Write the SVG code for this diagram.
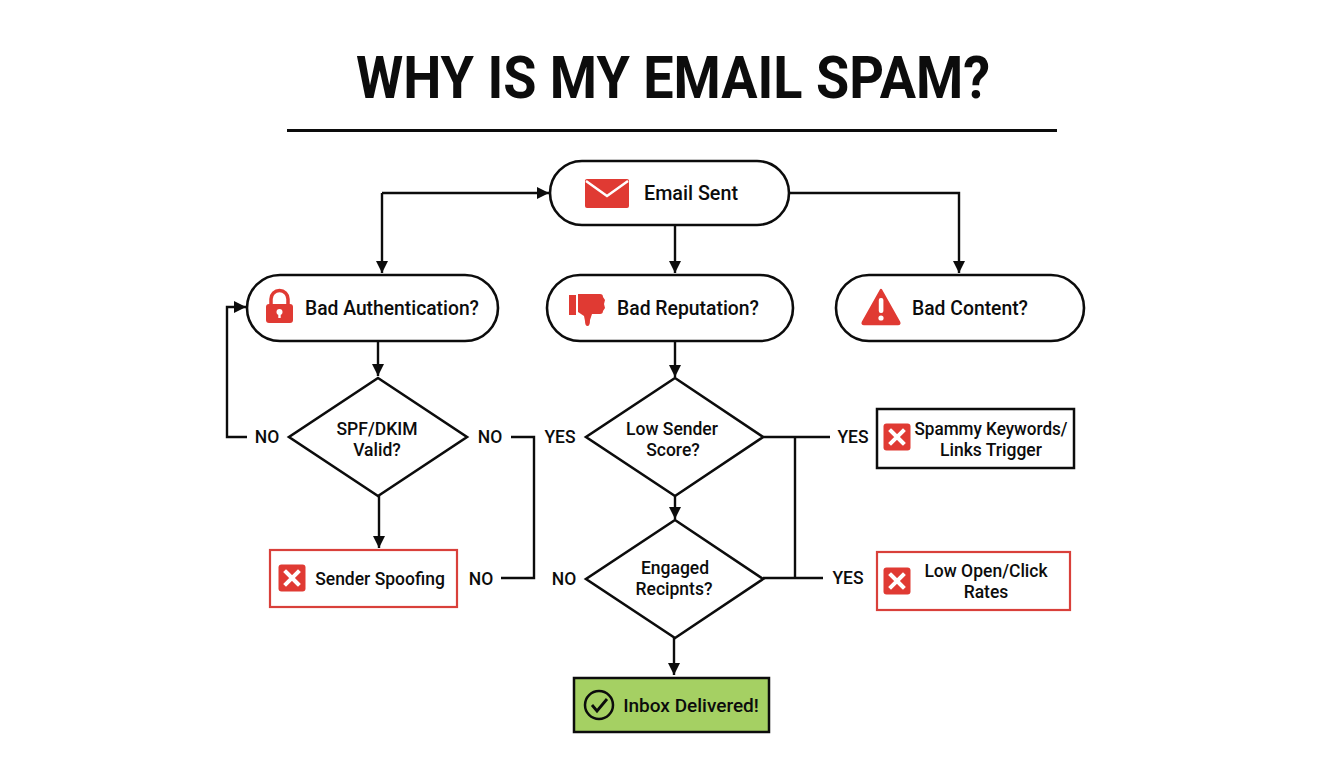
<svg xmlns="http://www.w3.org/2000/svg" width="1344" height="768" viewBox="0 0 1344 768">
<style>
text{font-family:Roboto,"Liberation Sans",sans-serif;font-weight:500;fill:#0c0c0c;text-anchor:middle;lengthAdjust:spacingAndGlyphs}
.t{font-size:20px}
.l{font-size:17.500px}
.n{fill:#fff;stroke:#0c0c0c;stroke-width:2.600}
.c{fill:none;stroke:#0c0c0c;stroke-width:2.400}
.a{marker-end:url(#ah)}
.red{fill:#e03a33}
.x{stroke:#fff;stroke-width:4;stroke-linecap:square;fill:none}
</style>
<defs>
<marker id="ah" markerUnits="userSpaceOnUse" markerWidth="14" markerHeight="14" refX="12" refY="6" orient="auto"><path d="M0 0L12 6L0 12z" fill="#0c0c0c"/></marker>
<g id="xi"><rect x="-13.500" y="-13.500" width="27" height="27" rx="3" class="red"/><path d="M-6-6L6 6M6-6L-6 6" class="x"/></g>
</defs>
<rect width="1344" height="768" fill="#fff"/>
<text id="title" x="673" y="98" textLength="634" lengthAdjust="spacingAndGlyphs" style="font-size:59px;font-weight:700">WHY IS MY EMAIL SPAM?</text>
<rect x="287" y="129" width="770" height="3" fill="#0c0c0c"/>
<g id="connectors">
<path class="c a" d="M382 193H549"/>
<path class="c a" d="M382 193V273"/>
<path class="c a" d="M675 225V273"/>
<path class="c a" d="M789 193H959V273"/>
<path class="c a" d="M378 341V376"/>
<path class="c a" d="M247 437H227V307H246"/>
<path class="c a" d="M379 496V548"/>
<path class="c" d="M511 437H534V578H501"/>
<path class="c a" d="M675 341V377"/>
<path class="c a" d="M675 496V519"/>
<path class="c a" d="M674 638V675"/>
<path class="c" d="M763 437H830M763 578H823M795 437V578"/>
</g>
<g id="labels">
<text class="l" x="267" y="443">NO</text>
<text class="l" x="490" y="443">NO</text>
<text class="l" x="560" y="443">YES</text>
<text class="l" x="481" y="585">NO</text>
<text class="l" x="564" y="585">NO</text>
<text class="l" x="853" y="443">YES</text>
<text class="l" x="848" y="584">YES</text>
</g>
<g id="email-sent">
<rect class="n" x="550" y="161" width="239" height="64" rx="32"/>
<rect x="585" y="179" width="44" height="29" rx="2" class="red"/>
<path d="M586 181L607 196L628 181" fill="none" stroke="#fff" stroke-width="2.500"/>
<text class="t" x="691" y="200" textLength="94" lengthAdjust="spacingAndGlyphs">Email Sent</text>
</g>
<g id="bad-auth">
<rect class="n" x="247" y="275" width="251" height="66" rx="33"/>
<rect x="266" y="304" width="27" height="19" rx="3" class="red"/>
<path d="M271 305V299a8.500 8.500 0 0 1 17 0V305" fill="none" stroke="#e03a33" stroke-width="3.500"/>
<circle cx="279.500" cy="312" r="3" fill="#fff"/><rect x="278.300" y="312" width="2.400" height="6" fill="#fff"/>
<text class="t" x="392" y="315" textLength="174" lengthAdjust="spacingAndGlyphs">Bad Authentication?</text>
</g>
<g id="bad-reputation">
<rect class="n" x="547" y="275" width="246" height="66" rx="33"/>
<rect x="569" y="295" width="7" height="20" class="red"/>
<path d="M578 294H600q3 0 3 3l2 3-1 4 1 4-2 3q0 3-3 3H592L590 320q0 6-2.500 6q-2.500 0-2.500-5L584 316L578 312z" class="red"/>
<text class="t" x="688" y="315" textLength="142" lengthAdjust="spacingAndGlyphs">Bad Reputation?</text>
</g>
<g id="bad-content">
<rect class="n" x="836" y="275" width="248" height="66" rx="33"/>
<path d="M881 290L899 322Q900 324 898 324H864Q862 324 863 322z" class="red" stroke="#e03a33" stroke-width="2.500" stroke-linejoin="round"/>
<rect x="878.800" y="298" width="4.600" height="15" rx="2" fill="#fff"/><circle cx="881" cy="318" r="2.600" fill="#fff"/>
<text class="t" x="970" y="315" textLength="116" lengthAdjust="spacingAndGlyphs">Bad Content?</text>
</g>
<g id="spf">
<path class="n" d="M378 378L467 437L378 496L289 437z"/>
<text class="l" x="377" y="435">SPF/DKIM</text>
<text class="l" x="377" y="456">Valid?</text>
</g>
<g id="low-sender">
<path class="n" d="M675 378L763 437L675 496L586 437z"/>
<text class="l" x="672" y="435">Low Sender</text>
<text class="l" x="673" y="456">Score?</text>
</g>
<g id="engaged">
<path class="n" d="M675 520L763 579L675 638L586 579z"/>
<text class="l" x="675" y="574">Engaged</text>
<text class="l" x="674" y="595">Recipnts?</text>
</g>
<g id="sender-spoofing">
<rect x="270" y="550" width="187" height="57" fill="#fff" stroke="#d9403a" stroke-width="2.200"/>
<use href="#xi" x="292" y="578"/>
<text class="l" x="380" y="585">Sender Spoofing</text>
</g>
<g id="spammy">
<rect x="877" y="409" width="197" height="59" fill="#fff" stroke="#0c0c0c" stroke-width="2.500"/>
<use href="#xi" x="897" y="437"/>
<text class="l" x="991" y="435" textLength="153" lengthAdjust="spacingAndGlyphs">Spammy Keywords/</text>
<text class="l" x="991" y="456">Links Trigger</text>
</g>
<g id="low-open">
<rect x="877" y="552" width="193" height="58" fill="#fff" stroke="#d9403a" stroke-width="2.200"/>
<use href="#xi" x="897" y="581"/>
<text class="l" x="986" y="577">Low Open/Click</text>
<text class="l" x="986" y="598">Rates</text>
</g>
<g id="inbox">
<rect x="574" y="678" width="195" height="54" fill="#a5d063" stroke="#0c0c0c" stroke-width="2.500"/>
<circle cx="599" cy="705" r="14" fill="none" stroke="#0c0c0c" stroke-width="2.500"/>
<path d="M592 705L597 711L607 699" fill="none" stroke="#0c0c0c" stroke-width="2.800"/>
<text class="t" x="691" y="712" style="font-size:19px">Inbox Delivered!</text>
</g>
</svg>
